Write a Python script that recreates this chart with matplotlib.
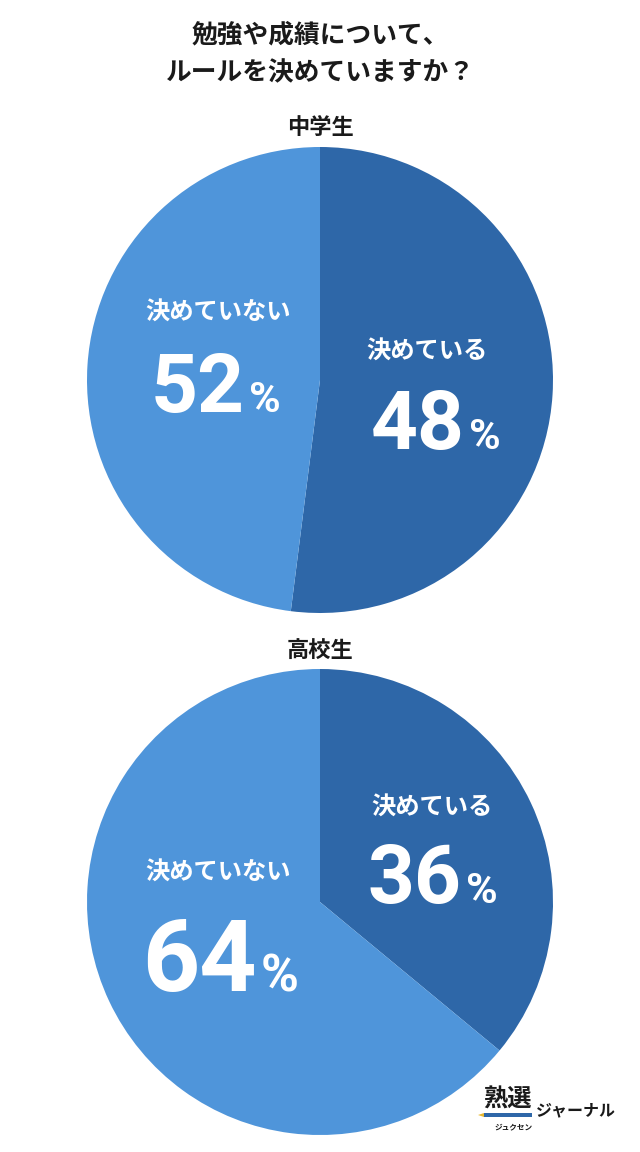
import matplotlib
matplotlib.use("Agg")
import matplotlib.pyplot as plt
from matplotlib.patches import Rectangle, Polygon

plt.rcParams['font.family'] = ['Noto Sans CJK JP', 'DejaVu Sans']

title_lines = ["勉強や成績について、", "ルールを決めていますか？"]
groups = ["中学生", "高校生"]
labels = ["決めている", "決めていない"]
# percentages printed on the chart
values_jhs = [48, 52]
values_hs = [36, 64]
# wedge sizes as drawn in the picture (top pie's dark wedge is drawn past half)
wedges_jhs = [52, 48]
wedges_hs = [36, 64]
colors = ["#2e67a8", "#4f95da"]

W, H = 640, 1152
fig = plt.figure(figsize=(W / 100, H / 100), dpi=100)
ax = fig.add_axes([0, 0, 1, 1])

def Y(y):
    return H - y

R = 233
centers = [(320, Y(380)), (320, Y(902))]
group_y = [127, 650]

for c, vals in zip(centers, [wedges_jhs, wedges_hs]):
    ax.pie(vals, colors=colors, startangle=90, counterclock=False,
           center=c, radius=R, wedgeprops=dict(linewidth=0))

ax.set_xlim(0, W)
ax.set_ylim(0, H)
ax.set_aspect('equal')
ax.axis('off')

# title
ax.text(320, Y(35), title_lines[0], ha='center', va='center', fontsize=18.5, fontweight='bold', color='#1a1a1a')
ax.text(320, Y(73), title_lines[1], ha='center', va='center', fontsize=18.5, fontweight='bold', color='#1a1a1a')

for g, gy in zip(groups, group_y):
    ax.text(320, Y(gy), g, ha='center', va='center', fontsize=16, fontweight='bold', color='#1a1a1a')

def pct(xr, y, num, size, psize):
    ax.text(xr, Y(y), str(num), ha='right', va='baseline', fontsize=size, fontweight='bold',
            color='white', family=['Roboto', 'DejaVu Sans'])
    ax.text(xr + 4, Y(y), "%", ha='left', va='baseline', fontsize=psize, fontweight='bold',
            color='white', family=['Roboto', 'DejaVu Sans'])

# top pie labels
ax.text(427, Y(352), labels[0], ha='center', va='center', fontsize=17.5, fontweight='bold', color='white')
pct(465, 449, values_jhs[0], 59, 31)
ax.text(218, Y(313), labels[1], ha='center', va='center', fontsize=17.5, fontweight='bold', color='white')
pct(245, 412, values_jhs[1], 59, 31)

# bottom pie labels
ax.text(432, Y(808), labels[0], ha='center', va='center', fontsize=17.5, fontweight='bold', color='white')
pct(462, 903, values_hs[0], 59, 31)
ax.text(218, Y(873), labels[1], ha='center', va='center', fontsize=17.5, fontweight='bold', color='white')
pct(257, 991, values_hs[1], 72, 37)

# logo
ax.text(507, Y(1100), "熟選", ha='center', va='center', fontsize=17.5, fontweight='bold', color='#1a1a1a')
ax.add_patch(Rectangle((484, Y(1117)), 48, 4, color='#2e67a8', lw=0))
ax.add_patch(Polygon([(478, Y(1115)), (484, Y(1113)), (484, Y(1117))], closed=True, color='#e8b830', lw=0))
ax.text(514, Y(1127), "ジュクセン", ha='center', va='center', fontsize=5.5, fontweight='bold', color='#1a1a1a')
ax.text(576, Y(1110), "ジャーナル", ha='center', va='center', fontsize=11.5, fontweight='bold', color='#1a1a1a')

fig.savefig("out.png", dpi=100, facecolor='white')
